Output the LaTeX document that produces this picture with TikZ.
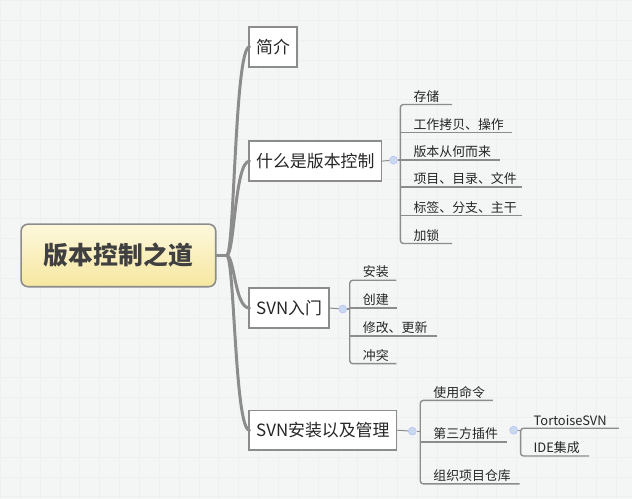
\documentclass[tikz,border=0pt]{standalone}
\usepackage{fontspec}
\setmainfont{Noto Sans CJK SC}
\usetikzlibrary{positioning}
\definecolor{bggray}{HTML}{F4F5F5}
\definecolor{gridgray}{HTML}{EEEFEF}
\definecolor{linegray}{HTML}{8C8C8C}
\definecolor{rootlow}{HTML}{F6E7A0}
\definecolor{roothigh}{HTML}{FDF8DC}
\definecolor{foldblue}{HTML}{C9D9EE}
\tikzset{
  topic/.style={draw=linegray, line width=1.6pt, fill=white, inner sep=7pt, font=\fontsize{17}{17}\selectfont, text=black!85, anchor=west, minimum height=40pt},
  leaf/.style={anchor=south west, inner sep=2pt, font=\fontsize{13}{13}\selectfont, text=black!85},
  branch/.style={draw=linegray, line width=3pt, line cap=round},
  twig/.style={draw=linegray, line width=1.4pt, rounded corners=3pt},
  fold/.style={circle, draw=foldblue!70!blue!60, fill=foldblue, line width=0.6pt, inner sep=0pt, minimum size=8pt}
}
\begin{document}
\begin{tikzpicture}[x=1pt,y=-1pt]
  \fill[bggray] (0,0) rectangle (636,502);
  \foreach \g in {0,20,...,640} {
    \draw[gridgray, line width=0.5pt] (\g,0) -- (\g,502);
  }
  \foreach \g in {0,20,...,500} {
    \draw[gridgray, line width=0.5pt] (0,\g) -- (636,\g);
  }
  \useasboundingbox (0,0) rectangle (636,502);

  % root and main topics
  \node[draw=linegray, line width=1.6pt, rounded corners=7pt, top color=roothigh, bottom color=rootlow,
        minimum width=196pt, minimum height=63pt, font=\fontsize{25}{25}\selectfont\bfseries, text=black!75]
        (root) at (119,257) {版本控制之道};
  \node[topic] (intro) at (250,47) {简介};
  \node[topic] (what) at (250,162) {什么是版本控制};
  \node[topic] (start) at (250,310) {SVN入门};
  \node[topic] (manage) at (250,433) {SVN安装以及管理};

  \coordinate (hub) at (228,257);
  \draw[branch] (root.east) -- (hub);
  \foreach \t in {intro,what,start,manage} {
    \draw[branch] (hub) .. controls (236,257) and (236,0 |- \t.west) .. ([xshift=1pt]\t.west);
  }

  % leaves of 什么是版本控制
  \node[fold] (fwhat) at (396,161) {};
  \draw[twig, line width=1pt] (what.east) -- (fwhat);
  \draw[twig] (fwhat.east) -- (403,161);
  \draw[twig] (455,105) -- (403,105) -- (403,245) -- (455,245);
  \foreach \y/\w/\txt in {133/515/工作拷贝、操作, 161/503/版本从何而来, 188/525/项目、目录、文件, 217/525/标签、分支、主干} {
    \draw[twig] (403,\y) -- (\w,\y);
  }
  \node[leaf] (w1) at (414,105) {存储};
  \node[leaf] (w2) at (414,133) {工作拷贝、操作};
  \node[leaf] (w3) at (414,161) {版本从何而来};
  \node[leaf] (w4) at (414,188) {项目、目录、文件};
  \node[leaf] (w5) at (414,217) {标签、分支、主干};
  \node[leaf] (w6) at (414,245) {加锁};

  % leaves of SVN入门
  \node[fold] (fstart) at (345,311) {};
  \draw[twig, line width=1pt] (start.east) -- (fstart);
  \draw[twig] (fstart.east) -- (352,311);
  \draw[twig] (399,282) -- (352,282) -- (352,366) -- (399,366);
  \draw[twig] (352,310) -- (400,310);
  \draw[twig] (352,338) -- (440,338);
  \node[leaf] (s1) at (363,282) {安装};
  \node[leaf] (s2) at (363,310) {创建};
  \node[leaf] (s3) at (363,338) {修改、更新};
  \node[leaf] (s4) at (363,366) {冲突};

  % leaves of SVN安装以及管理
  \node[fold] (fmanage) at (415,434) {};
  \draw[twig, line width=1pt] (manage.east) -- (fmanage);
  \draw[twig] (fmanage.east) -- (423,434);
  \draw[twig] (496,403) -- (423,403) -- (423,487) -- (523,487);
  \draw[twig] (423,445) -- (510,445);
  \node[leaf] (m1) at (434,403) {使用命令};
  \node[leaf] (m2) at (434,445) {第三方插件};
  \node[leaf] (m3) at (434,487) {组织项目仓库};

  % leaves of 第三方插件
  \node[fold] (fplug) at (517,433) {};
  \draw[twig] (fplug.east) -- (524,433);
  \draw[twig] (623,431) -- (524,431) -- (524,459) -- (593,459);
  \node[leaf] (p1) at (535,431) {TortoiseSVN};
  \node[leaf] (p2) at (535,459) {IDE集成};
\end{tikzpicture}
\end{document}
